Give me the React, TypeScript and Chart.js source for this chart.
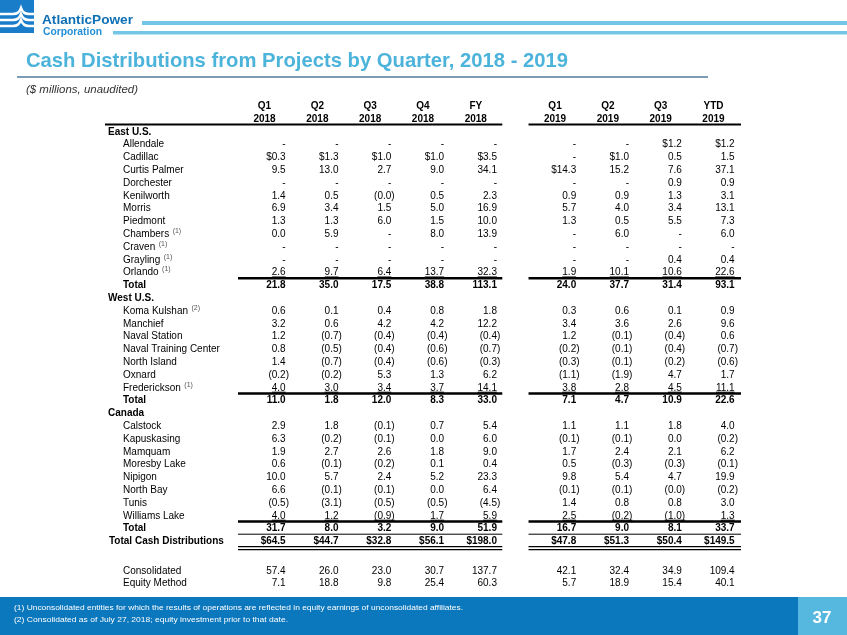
import React, { useEffect, useRef } from 'react';
import { Chart, registerables } from 'chart.js';

Chart.register(...registerables);

const FONT = '"Liberation Sans", Arial, Helvetica, sans-serif';

const titleText = 'Cash Distributions from Projects by Quarter, 2018 - 2019';
const subtitleText = '($ millions, unaudited)';
const footnotes = [
  '(1) Unconsolidated entities for which the results of operations are reflected in equity earnings of unconsolidated affiliates.',
  '(2) Consolidated as of July 27, 2018; equity investment prior to that date.',
];
const pageNumber = '37';

const quarterLabels = ['Q1', 'Q2', 'Q3', 'Q4', 'FY', 'Q1', 'Q2', 'Q3', 'YTD'];
const yearLabels = ['2018', '2018', '2018', '2018', '2018', '2019', '2019', '2019', '2019'];

const eastProjects = ['Allendale', 'Cadillac', 'Curtis Palmer', 'Dorchester', 'Kenilworth', 'Morris', 'Piedmont', 'Chambers', 'Craven', 'Grayling', 'Orlando'];
const eastNotes = ['', '', '', '', '', '', '', '(1)', '(1)', '(1)', '(1)'];
const eastValues: (number | null)[][] = [
  [null, null, null, null, null, null, null, 1.2, 1.2],
  [0.3, 1.3, 1.0, 1.0, 3.5, null, 1.0, 0.5, 1.5],
  [9.5, 13.0, 2.7, 9.0, 34.1, 14.3, 15.2, 7.6, 37.1],
  [null, null, null, null, null, null, null, 0.9, 0.9],
  [1.4, 0.5, -0.0, 0.5, 2.3, 0.9, 0.9, 1.3, 3.1],
  [6.9, 3.4, 1.5, 5.0, 16.9, 5.7, 4.0, 3.4, 13.1],
  [1.3, 1.3, 6.0, 1.5, 10.0, 1.3, 0.5, 5.5, 7.3],
  [0.0, 5.9, null, 8.0, 13.9, null, 6.0, null, 6.0],
  [null, null, null, null, null, null, null, null, null],
  [null, null, null, null, null, null, null, 0.4, 0.4],
  [2.6, 9.7, 6.4, 13.7, 32.3, 1.9, 10.1, 10.6, 22.6],
];
const eastTotal = [21.8, 35.0, 17.5, 38.8, 113.1, 24.0, 37.7, 31.4, 93.1];

const westProjects = ['Koma Kulshan', 'Manchief', 'Naval Station', 'Naval Training Center', 'North Island', 'Oxnard', 'Frederickson'];
const westNotes = ['(2)', '', '', '', '', '', '(1)'];
const westValues: (number | null)[][] = [
  [0.6, 0.1, 0.4, 0.8, 1.8, 0.3, 0.6, 0.1, 0.9],
  [3.2, 0.6, 4.2, 4.2, 12.2, 3.4, 3.6, 2.6, 9.6],
  [1.2, -0.7, -0.4, -0.4, -0.4, 1.2, -0.1, -0.4, 0.6],
  [0.8, -0.5, -0.4, -0.6, -0.7, -0.2, -0.1, -0.4, -0.7],
  [1.4, -0.7, -0.4, -0.6, -0.3, -0.3, -0.1, -0.2, -0.6],
  [-0.2, -0.2, 5.3, 1.3, 6.2, -1.1, -1.9, 4.7, 1.7],
  [4.0, 3.0, 3.4, 3.7, 14.1, 3.8, 2.8, 4.5, 11.1],
];
const westTotal = [11.0, 1.8, 12.0, 8.3, 33.0, 7.1, 4.7, 10.9, 22.6];

const canadaProjects = ['Calstock', 'Kapuskasing', 'Mamquam', 'Moresby Lake', 'Nipigon', 'North Bay', 'Tunis', 'Williams Lake'];
const canadaValues: (number | null)[][] = [
  [2.9, 1.8, -0.1, 0.7, 5.4, 1.1, 1.1, 1.8, 4.0],
  [6.3, -0.2, -0.1, 0.0, 6.0, -0.1, -0.1, 0.0, -0.2],
  [1.9, 2.7, 2.6, 1.8, 9.0, 1.7, 2.4, 2.1, 6.2],
  [0.6, -0.1, -0.2, 0.1, 0.4, 0.5, -0.3, -0.3, -0.1],
  [10.0, 5.7, 2.4, 5.2, 23.3, 9.8, 5.4, 4.7, 19.9],
  [6.6, -0.1, -0.1, 0.0, 6.4, -0.1, -0.1, -0.0, -0.2],
  [-0.5, -3.1, -0.5, -0.5, -4.5, 1.4, 0.8, 0.8, 3.0],
  [4.0, 1.2, -0.9, 1.7, 5.9, 2.5, -0.2, -1.0, 1.3],
];
const canadaTotal = [31.7, 8.0, 3.2, 9.0, 51.9, 16.7, 9.0, 8.1, 33.7];

const totalCash = [64.5, 44.7, 32.8, 56.1, 198.0, 47.8, 51.3, 50.4, 149.5];
const consolidated = [57.4, 26.0, 23.0, 30.7, 137.7, 42.1, 32.4, 34.9, 109.4];
const equityMethod = [7.1, 18.8, 9.8, 25.4, 60.3, 5.7, 18.9, 15.4, 40.1];

type Row = {
  label: string;
  kind: 'section' | 'item' | 'total' | 'grand';
  note?: string;
  values?: (number | null)[];
  dollar?: boolean[];
  underline?: boolean;
  lineAbove?: 'thick' | 'thin';
  double?: boolean;
  pos: number;
  ds?: number;
};

function buildRows(): Row[] {
  const rows: Row[] = [];
  let pos = 0;
  const add = (r: Omit<Row, 'pos'>) => {
    rows.push({ ...r, pos });
    pos += 1;
  };
  add({ label: 'East U.S.', kind: 'section' });
  const seen = new Array(9).fill(false);
  eastProjects.forEach((name, i) => {
    const vals = eastValues[i];
    const dollar = vals.map((v, c) => {
      if (v !== null && !seen[c]) {
        seen[c] = true;
        return true;
      }
      return false;
    });
    add({ label: name, kind: 'item', note: eastNotes[i], values: vals, dollar, underline: i === eastProjects.length - 1 });
  });
  add({ label: 'Total', kind: 'total', values: eastTotal, lineAbove: 'thick' });
  add({ label: 'West U.S.', kind: 'section' });
  westProjects.forEach((name, i) =>
    add({ label: name, kind: 'item', note: westNotes[i], values: westValues[i], underline: i === westProjects.length - 1 })
  );
  add({ label: 'Total', kind: 'total', values: westTotal, lineAbove: 'thick' });
  add({ label: 'Canada', kind: 'section' });
  canadaProjects.forEach((name, i) =>
    add({ label: name, kind: 'item', values: canadaValues[i], underline: i === canadaProjects.length - 1 })
  );
  add({ label: 'Total', kind: 'total', values: canadaTotal, lineAbove: 'thick' });
  add({ label: 'Total Cash Distributions', kind: 'grand', values: totalCash, dollar: totalCash.map(() => true), lineAbove: 'thin', double: true });
  pos += 1.3;
  add({ label: 'Consolidated', kind: 'item', values: consolidated });
  add({ label: 'Equity Method', kind: 'item', values: equityMethod });
  return rows;
}

const colX = quarterLabels.map((_, i) => (i < 5 ? i : i + 0.5));

function fmt(v: number | null, dollar?: boolean): { text: string; neg: boolean } {
  if (v === null) return { text: '-', neg: false };
  const neg = v < 0 || Object.is(v, -0);
  const s = Math.abs(v).toFixed(1);
  return { text: (dollar ? '$' : '') + (neg ? '(' + s + ')' : s), neg };
}

function fitText(ctx: CanvasRenderingContext2D, text: string, x: number, y: number, width: number) {
  const w = ctx.measureText(text).width;
  ctx.save();
  ctx.translate(x, y);
  ctx.scale(width / w, 1);
  ctx.fillText(text, 0, 0);
  ctx.restore();
}

export default function App() {
  const ref = useRef<HTMLCanvasElement>(null);

  useEffect(() => {
    const canvas = ref.current!;
    const rows = buildRows();
    const datasets: any[] = [];
    rows.forEach((r) => {
      if (r.values) {
        r.ds = datasets.length;
        datasets.push({
          label: r.label,
          data: r.values.map((_, c) => ({ x: colX[c], y: r.pos })),
          pointRadius: 0,
          pointHoverRadius: 0,
          backgroundColor: 'rgba(0,0,0,0)',
          borderColor: 'rgba(0,0,0,0)',
        });
      }
    });

    const decorPlugin = {
      id: 'decor',
      beforeDraw(chart: any) {
        const ctx: CanvasRenderingContext2D = chart.ctx;
        const W = chart.width;
        const H = chart.height;
        ctx.save();
        ctx.fillStyle = '#ffffff';
        ctx.fillRect(0, 0, W, H);

        // logo mark
        ctx.fillStyle = '#1a7dc9';
        ctx.fillRect(0, 0, 34, 33);
        ctx.strokeStyle = '#ffffff';
        ctx.lineWidth = 2.4;
        [14, 20, 26].forEach((y) => {
          ctx.beginPath();
          ctx.moveTo(0, y);
          ctx.lineTo(13, y);
          ctx.quadraticCurveTo(19, y, 21, y - 6);
          ctx.quadraticCurveTo(23, y, 29, y);
          ctx.lineTo(34, y);
          ctx.stroke();
        });
        ctx.textBaseline = 'alphabetic';
        ctx.textAlign = 'left';
        ctx.fillStyle = '#0f6fb5';
        ctx.font = `bold 13.5px ${FONT}`;
        fitText(ctx, 'AtlanticPower', 42, 24, 91);
        ctx.fillStyle = '#2590d8';
        ctx.font = `bold 10.5px ${FONT}`;
        fitText(ctx, 'Corporation', 43, 35, 59);

        // header bars
        ctx.fillStyle = '#74c6e6';
        ctx.fillRect(142, 21, W - 142, 4);
        ctx.fillRect(113, 31, W - 113, 3.5);

        // title
        ctx.fillStyle = '#4cb3da';
        ctx.font = `bold 21px ${FONT}`;
        fitText(ctx, titleText, 26, 67, 542);
        ctx.fillStyle = '#7c9cb6';
        ctx.fillRect(17, 76, 691, 2);

        ctx.fillStyle = '#333333';
        ctx.font = `italic 11.5px ${FONT}`;
        fitText(ctx, subtitleText, 26, 93, 112);

        // footer
        ctx.fillStyle = '#0b77bd';
        ctx.fillRect(0, 597, W, H - 597);
        ctx.fillStyle = '#56b7df';
        ctx.fillRect(798, 597, W - 798, H - 597);
        ctx.fillStyle = '#ffffff';
        ctx.font = `8px ${FONT}`;
        fitText(ctx, footnotes[0], 14, 610, 449);
        fitText(ctx, footnotes[1], 14, 622, 274);
        ctx.font = `bold 17px ${FONT}`;
        ctx.textAlign = 'center';
        ctx.fillText(pageNumber, 822, 623);
        ctx.restore();
      },
    };

    const tablePlugin = {
      id: 'tableText',
      afterDatasetsDraw(chart: any) {
        const ctx: CanvasRenderingContext2D = chart.ctx;
        const xs = chart.scales.x;
        const ys = chart.scales.y;
        const area = chart.chartArea;
        const right = (c: number) => xs.getPixelForValue(colX[c]);
        const g18 = [right(0) - 51, right(4) + 2];
        const g19 = [right(5) - 51, right(8) + 3];
        ctx.save();
        ctx.fillStyle = '#000000';
        ctx.strokeStyle = '#000000';
        ctx.textBaseline = 'alphabetic';

        // column headers
        ctx.font = `bold 10px ${FONT}`;
        ctx.textAlign = 'center';
        quarterLabels.forEach((q, c) => {
          const cx = right(c) - 24.5;
          ctx.fillText(q, cx, ys.getPixelForValue(-2) + 3.6);
          ctx.fillText(yearLabels[c], cx, ys.getPixelForValue(-1) + 3.6);
        });
        const hy = ys.getPixelForValue(-0.5);
        ctx.lineWidth = 2;
        ctx.beginPath();
        ctx.moveTo(area.left, hy);
        ctx.lineTo(g18[1], hy);
        ctx.moveTo(g19[0], hy);
        ctx.lineTo(g19[1], hy);
        ctx.stroke();

        rows.forEach((r) => {
          const y = ys.getPixelForValue(r.pos);
          const base = y + 3.6;
          const bold = r.kind !== 'item';
          ctx.font = `${bold ? 'bold ' : ''}10px ${FONT}`;
          ctx.textAlign = 'left';
          const lx = r.kind === 'section' ? area.left + 3 : r.kind === 'grand' ? area.left + 4 : area.left + 18;
          ctx.fillText(r.label, lx, base);
          if (r.note) {
            const w = ctx.measureText(r.label).width;
            ctx.save();
            ctx.font = `7px ${FONT}`;
            ctx.fillStyle = '#555555';
            ctx.fillText(r.note, lx + w + 3.5, base - 4);
            ctx.restore();
          }
          if (r.lineAbove) {
            const ly = ys.getPixelForValue(r.pos - 0.5);
            ctx.lineWidth = r.lineAbove === 'thick' ? 2.5 : 1;
            ctx.beginPath();
            ctx.moveTo(g18[0], ly);
            ctx.lineTo(g18[1], ly);
            ctx.moveTo(g19[0], ly);
            ctx.lineTo(g19[1], ly);
            ctx.stroke();
          }
          if (r.double) {
            ctx.lineWidth = 1.2;
            [6, 9].forEach((d) => {
              ctx.beginPath();
              ctx.moveTo(g18[0], y + d);
              ctx.lineTo(g18[1], y + d);
              ctx.moveTo(g19[0], y + d);
              ctx.lineTo(g19[1], y + d);
              ctx.stroke();
            });
          }
          if (r.values && r.ds !== undefined) {
            const meta = chart.getDatasetMeta(r.ds);
            ctx.textAlign = 'right';
            const parenW = ctx.measureText(')').width;
            r.values.forEach((v, c) => {
              const el = meta.data[c];
              const f = fmt(v, r.dollar ? r.dollar[c] : false);
              const tx = f.neg ? el.x : el.x - parenW;
              ctx.fillText(f.text, tx, el.y + 3.6);
              if (r.underline) {
                const tw = ctx.measureText(f.text).width;
                ctx.lineWidth = 1;
                ctx.beginPath();
                ctx.moveTo(tx - tw, el.y + 5.2);
                ctx.lineTo(tx, el.y + 5.2);
                ctx.stroke();
              }
            });
          }
        });
        ctx.restore();
      },
    };

    const chart = new Chart(canvas, {
      type: 'scatter',
      data: { datasets },
      options: {
        responsive: false,
        animation: false,
        events: [],
        layout: { padding: { left: 105, right: 106, top: 100, bottom: 45 } },
        plugins: {
          legend: { display: false },
          tooltip: { enabled: false },
          title: { display: false },
        },
        scales: {
          x: { type: 'linear', display: false, min: -3.4835, max: 8.557 },
          y: { type: 'linear', display: false, min: -2.422, max: 35.86, reverse: true },
        },
      },
      plugins: [decorPlugin, tablePlugin],
    } as any);
    return () => chart.destroy();
  }, []);

  return (
    <div style={{ position: 'fixed', left: 0, top: 0, width: 847, height: 635, background: '#ffffff' }}>
      <canvas ref={ref} width={847} height={635} style={{ width: 847, height: 635, display: 'block' }} />
    </div>
  );
}
